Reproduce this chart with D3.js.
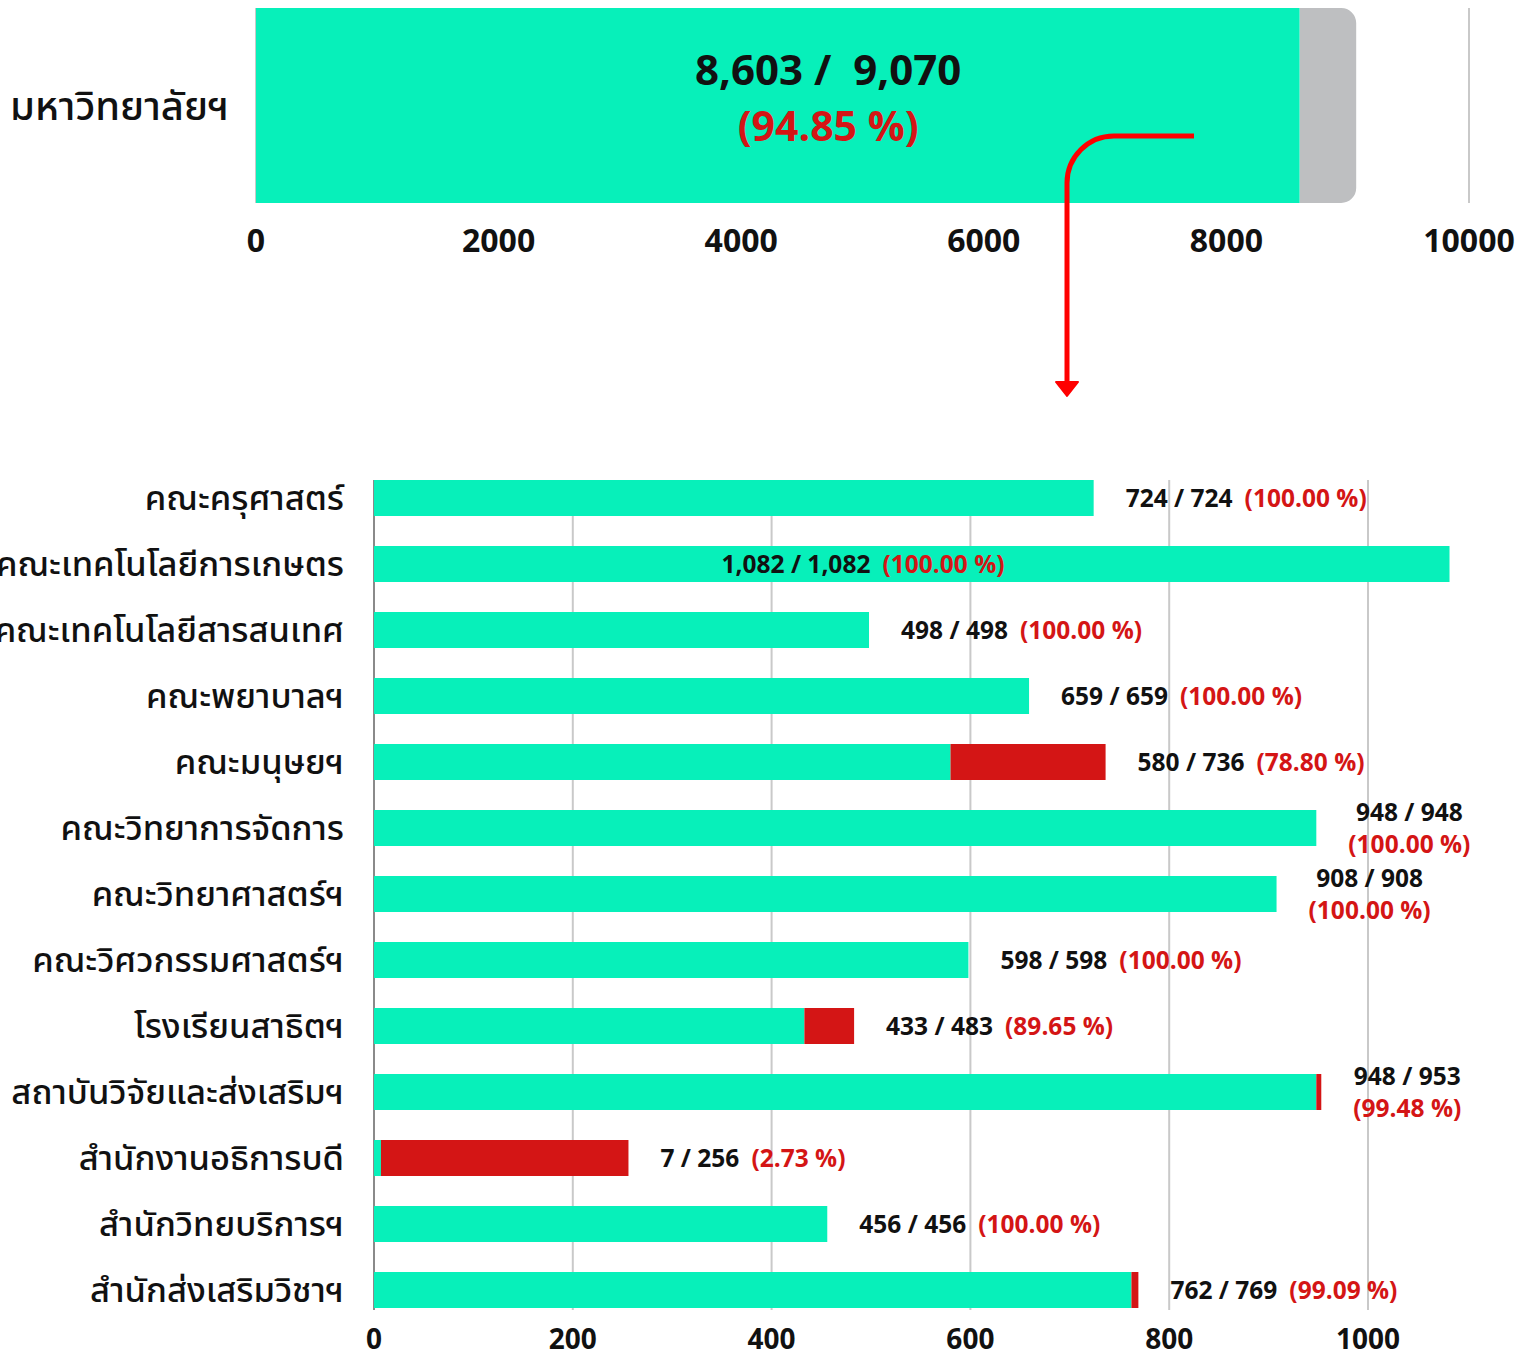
<!DOCTYPE html>
<html><head><meta charset="utf-8">
<script src="https://cdn.jsdelivr.net/npm/d3@7"></script>
<style>
html,body{margin:0;padding:0;background:#fff;}
svg{display:block;font-family:"Noto Sans Thai","Noto Sans",Roboto,sans-serif;}
text{white-space:pre;}
</style></head>
<body>
<svg id="chart" width="1523" height="1358"></svg>
<script>
const topCategory = "มหาวิทยาลัยฯ";
const topTicks = [0, 2000, 4000, 6000, 8000, 10000];
const categories = ["คณะครุศาสตร์","คณะเทคโนโลยีการเกษตร","คณะเทคโนโลยีสารสนเทศ","คณะพยาบาลฯ","คณะมนุษยฯ","คณะวิทยาการจัดการ","คณะวิทยาศาสตร์ฯ","คณะวิศวกรรมศาสตร์ฯ","โรงเรียนสาธิตฯ","สถาบันวิจัยและส่งเสริมฯ","สำนักงานอธิการบดี","สำนักวิทยบริการฯ","สำนักส่งเสริมวิชาฯ"];
const completed = [724,1082,498,659,580,948,908,598,433,948,7,456,762];
const totals = [724,1082,498,659,736,948,908,598,483,953,256,456,769];
const bottomTicks = [0,200,400,600,800,1000];

const GREEN="#07F0BA", RED="#D41515", GREY="#BEBFC1", ARROW="#FF0000";
const svg = d3.select("#chart");
const fmtN = d3.format(",");
const fmtP = d3.format(".2f");

// ---------- Top bar ----------
const topDone = d3.sum(completed), topTotal = d3.sum(totals);
const xTop = d3.scaleLinear().domain([0,10000]).range([256,1469]);
const yTop = d3.scaleBand().domain([topCategory]).range([8,203]).padding(0);

svg.append("g").selectAll("line").data(topTicks).join("line")
  .attr("x1",d=>xTop(d)).attr("x2",d=>xTop(d))
  .attr("y1",yTop.range()[0]).attr("y2",yTop.range()[1])
  .attr("stroke","#c9c9c9").attr("stroke-width",2);

const y0=yTop(topCategory), h=yTop.bandwidth(), r=15;
const gx0=xTop(topDone), gx1=xTop(topTotal);
svg.append("path").attr("fill",GREY)
  .attr("d",`M${gx0},${y0}H${gx1-r}A${r},${r} 0 0 1 ${gx1},${y0+r}V${y0+h-r}A${r},${r} 0 0 1 ${gx1-r},${y0+h}H${gx0}Z`);
svg.append("rect").attr("fill",GREEN)
  .attr("x",xTop(0)).attr("y",y0).attr("width",xTop(topDone)-xTop(0)).attr("height",h);

svg.append("text").attr("x",10).attr("y",y0+h/2).attr("dy","0.35em")
  .attr("font-size",40).attr("font-weight",500).attr("fill","#111").text(topCategory);

svg.append("g").selectAll("text").data(topTicks).join("text")
  .attr("x",d=>xTop(d)).attr("y",241).attr("dy","0.35em")
  .attr("text-anchor","middle").attr("font-size",32).attr("font-weight",700).attr("fill","#111")
  .text(d=>d);

const cx = xTop(topTotal/2) + 22;
svg.append("text").attr("x",cx).attr("y",70).attr("dy","0.35em").attr("text-anchor","middle")
  .attr("font-size",42).attr("font-weight",700).attr("fill","#111")
  .text(fmtN(topDone)+" /  "+fmtN(topTotal));
svg.append("text").attr("x",cx).attr("y",127).attr("dy","0.35em").attr("text-anchor","middle")
  .attr("font-size",41).attr("font-weight",700).attr("fill",RED)
  .text("("+fmtP(topDone/topTotal*100)+" %)");

// arrow annotation
svg.append("path").attr("fill","none").attr("stroke",ARROW).attr("stroke-width",5)
  .attr("d","M1194,136H1114A47,47 0 0 0 1067,183V386");
svg.append("path").attr("fill",ARROW).attr("stroke",ARROW).attr("stroke-width",2).attr("stroke-linejoin","round")
  .attr("d","M1056,382L1078,382L1067,396Z");

// ---------- Bottom chart ----------
const x = d3.scaleLinear().domain([0,1000]).range([374,1368]);
const y = d3.scaleBand().domain(categories).range([465,1323]).paddingInner(30/66).paddingOuter(15/66);
const plotTop = y(categories[0]), plotBot = y(categories[categories.length-1])+y.bandwidth();

svg.append("g").selectAll("line").data(bottomTicks.filter(d=>d>0)).join("line")
  .attr("x1",d=>x(d)).attr("x2",d=>x(d)).attr("y1",plotTop).attr("y2",plotBot+2)
  .attr("stroke","#c9c9c9").attr("stroke-width",2);
svg.append("line").attr("x1",x(0)).attr("x2",x(0)).attr("y1",plotTop).attr("y2",plotBot+2)
  .attr("stroke","#8a8a8a").attr("stroke-width",2);

const rows = categories.map((c,i)=>({c, done:completed[i], total:totals[i]}));
svg.append("g").selectAll("rect").data(rows).join("rect")
  .attr("x",d=>x(0)).attr("y",d=>y(d.c)).attr("width",d=>x(d.done)-x(0)).attr("height",y.bandwidth())
  .attr("fill",GREEN);
svg.append("g").selectAll("rect").data(rows.filter(d=>d.total>d.done)).join("rect")
  .attr("x",d=>x(d.done)).attr("y",d=>y(d.c)).attr("width",d=>x(d.total)-x(d.done)).attr("height",y.bandwidth())
  .attr("fill",RED);

svg.append("g").selectAll("text").data(categories).join("text")
  .attr("x",344).attr("y",d=>y(d)+y.bandwidth()/2).attr("dy","0.35em")
  .attr("text-anchor","end").attr("font-size",34.5).attr("font-weight",500).attr("fill","#111").text(d=>d);

svg.append("g").selectAll("text").data(bottomTicks).join("text")
  .attr("x",d=>x(d)).attr("y",1339).attr("dy","0.35em").attr("text-anchor","middle")
  .attr("font-size",28).attr("font-weight",700).attr("fill","#111").text(d=>d);

// value labels
const LFS=24.5, GAP=32, LIMIT=1490;
rows.forEach(d=>{
  const cy = y(d.c)+y.bandwidth()/2;
  const a = fmtN(d.done)+" / "+fmtN(d.total);
  const p = "("+fmtP(d.done/d.total*100)+" %)";
  const g = svg.append("g").attr("font-size",LFS).attr("font-weight",700);
  if (d.total > x.domain()[1]) {
    const t = g.append("text").attr("x",x(x.domain()[1]/2)-8).attr("y",cy).attr("dy","0.35em").attr("text-anchor","middle");
    t.append("tspan").attr("fill","#111").text(a);
    t.append("tspan").attr("fill",RED).attr("dx",12).text(p);
    return;
  }
  const t = g.append("text").attr("x",x(d.total)+GAP).attr("y",cy).attr("dy","0.35em");
  t.append("tspan").attr("fill","#111").text(a);
  t.append("tspan").attr("fill",RED).attr("dx",12).text(p);
  const w = t.node().getComputedTextLength();
  if (x(d.total)+GAP+w > LIMIT) {
    t.remove();
    const t1 = g.append("text").attr("y",cy-16).attr("dy","0.35em").attr("text-anchor","middle").attr("fill","#111").text(a);
    const t2 = g.append("text").attr("y",cy+16).attr("dy","0.35em").attr("text-anchor","middle").attr("fill",RED).text(p);
    const mw = Math.max(t1.node().getComputedTextLength(), t2.node().getComputedTextLength());
    const c = x(d.total)+32+mw/2;
    t1.attr("x",c); t2.attr("x",c);
  }
});
</script>
</body></html>
